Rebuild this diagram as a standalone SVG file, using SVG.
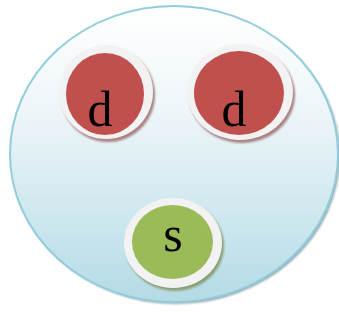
<svg xmlns="http://www.w3.org/2000/svg" width="339" height="323" viewBox="0 0 339 323">
  <defs>
    <linearGradient id="bowl" x1="0" y1="0" x2="0" y2="1">
      <stop offset="0" stop-color="#ffffff"/>
      <stop offset="0.35" stop-color="#eef6f9"/>
      <stop offset="1" stop-color="#b4dbe6"/>
    </linearGradient>
    <filter id="soft" x="-10%" y="-10%" width="120%" height="120%">
      <feGaussianBlur stdDeviation="0.8"/>
    </filter>
  </defs>
  <style>
    .ring { fill: #f2f2f2; }
    .shadow { filter: url(#soft); }
    .red { fill: #c0504d; }
    .green { fill: #9bbb59; }
    .label { font-family: "Liberation Serif", "Times New Roman", serif; font-size: 50px; fill: #000000; text-anchor: middle; }
  </style>

  <!-- outer container -->
  <g id="container">
    <ellipse cx="176" cy="156" rx="164" ry="148" fill="#8fa9b0" class="shadow"/>
    <ellipse cx="174" cy="154" rx="164" ry="148" fill="url(#bowl)" stroke="#92cddc" stroke-width="2"/>
  </g>

  <g id="connectors"/>

  <!-- left d -->
  <g id="node-d1">
    <ellipse cx="108" cy="95" rx="47" ry="47" fill="#a88384" class="shadow"/>
    <ellipse cx="106" cy="92" rx="47" ry="47" class="ring"/>
    <ellipse cx="105" cy="94" rx="39" ry="41" class="red"/>
    <text x="100" y="126" class="label">d</text>
  </g>

  <!-- right d -->
  <g id="node-d2">
    <ellipse cx="242" cy="95" rx="53" ry="48" fill="#a88384" class="shadow"/>
    <ellipse cx="240" cy="92" rx="53" ry="48" class="ring"/>
    <ellipse cx="239" cy="93" rx="45" ry="42" class="red"/>
    <text x="234" y="126" class="label">d</text>
  </g>

  <!-- s -->
  <g id="node-s">
    <ellipse cx="175" cy="246" rx="49" ry="45" fill="#8a9f78" class="shadow"/>
    <ellipse cx="173" cy="243" rx="49" ry="45" class="ring"/>
    <ellipse cx="172.5" cy="242" rx="40.5" ry="37" class="green"/>
    <text x="173" y="251" class="label">s</text>
  </g>
</svg>
